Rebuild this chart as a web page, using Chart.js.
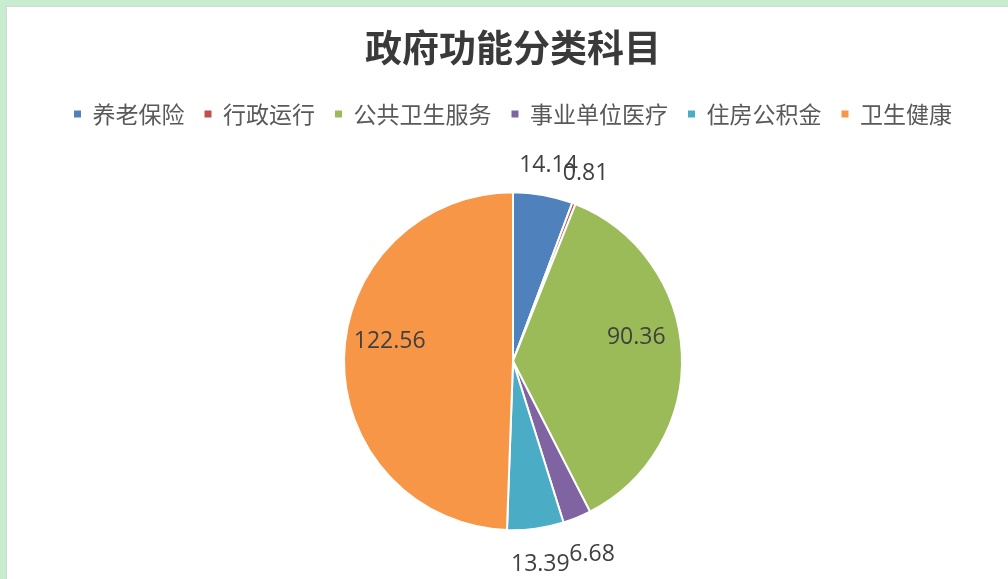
<!DOCTYPE html>
<html>
<head>
<meta charset="utf-8">
<script src="https://cdn.jsdelivr.net/npm/chart.js@4.4.0/dist/chart.umd.min.js"></script>
<style>
html, body { margin: 0; padding: 0; width: 1008px; height: 579px; overflow: hidden; background: #c7ecce; }
#wrap { position: absolute; left: 6px; top: 6px; width: 1001px; height: 620px; background: #fff;
        border-left: 1px solid #d6d6d6; border-top: 1px solid #d6d6d6; }
</style>
</head>
<body>
<div id="wrap"><canvas id="pie" width="1001" height="620"></canvas></div>
<script>
// data
const categories = ['养老保险', '行政运行', '公共卫生服务', '事业单位医疗', '住房公积金', '卫生健康'];
const values = [14.14, 0.81, 90.36, 6.68, 13.39, 122.56];

// Office-style slice colours
const SLICE_COLORS = ['#4f81bd', '#c0504d', '#9bbb59', '#8064a2', '#4bacc6', '#f79646'];

// value labels: big slices inside, small ones just outside the rim
const valueLabels = {
    id: 'valueLabels',
    afterDatasetsDraw(chart) {
        const ctx = chart.ctx;
        const meta = chart.getDatasetMeta(0);
        ctx.save();
        ctx.font = "23px 'Open Sans'";
        ctx.fillStyle = '#404040';
        ctx.textAlign = 'center';
        ctx.textBaseline = 'middle';
        meta.data.forEach((arc, i) => {
            const p = arc.getProps(['x', 'y', 'startAngle', 'endAngle', 'outerRadius'], true);
            const mid = (p.startAngle + p.endAngle) / 2;
            const cos = Math.cos(mid), sin = Math.sin(mid);
            const text = values[i].toFixed(2);
            let lx, ly;
            if (p.endAngle - p.startAngle > 1) {
                lx = p.x + cos * p.outerRadius * 0.73;
                ly = p.y + sin * p.outerRadius * 0.73 - 18;
            } else {
                const w = ctx.measureText(text).width, h = 20;
                // bottom labels sit a little further out in the reference
                const gap = sin > 0 ? 22 : 15;
                const d = p.outerRadius + gap + Math.abs(cos) * w / 2 + Math.abs(sin) * h / 2;
                lx = p.x + cos * d;
                ly = p.y + sin * d;
            }
            ctx.fillText(text, lx, ly);
        });
        ctx.restore();
    }
};

new Chart(document.getElementById('pie'), {
    type: 'pie',
    data: {
        labels: categories,
        datasets: [{
            data: values,
            backgroundColor: SLICE_COLORS,
            borderColor: '#ffffff',
            borderWidth: 2,
            radius: 169
        }]
    },
    options: {
        responsive: false,
        animation: false,
        layout: { padding: { left: 11, right: 0, top: 0, bottom: 40 } },
        plugins: {
            title: {
                display: true,
                text: '政府功能分类科目',
                color: '#3a3a3a',
                font: { family: "'Noto Sans CJK SC'", size: 37, weight: 'bold' },
                padding: { top: 19, bottom: 12 }
            },
            legend: {
                position: 'top',
                labels: {
                    boxWidth: 7,
                    boxHeight: 7,
                    padding: 20,
                    color: '#595959',
                    font: { family: "'Noto Sans CJK SC'", size: 23 },
                    generateLabels(chart) {
                        const items = Chart.overrides.pie.plugins.legend.labels.generateLabels(chart);
                        items.forEach(it => { it.lineWidth = 0; });
                        return items;
                    }
                }
            },
            tooltip: { enabled: false }
        }
    },
    plugins: [valueLabels]
});
</script>
</body>
</html>
